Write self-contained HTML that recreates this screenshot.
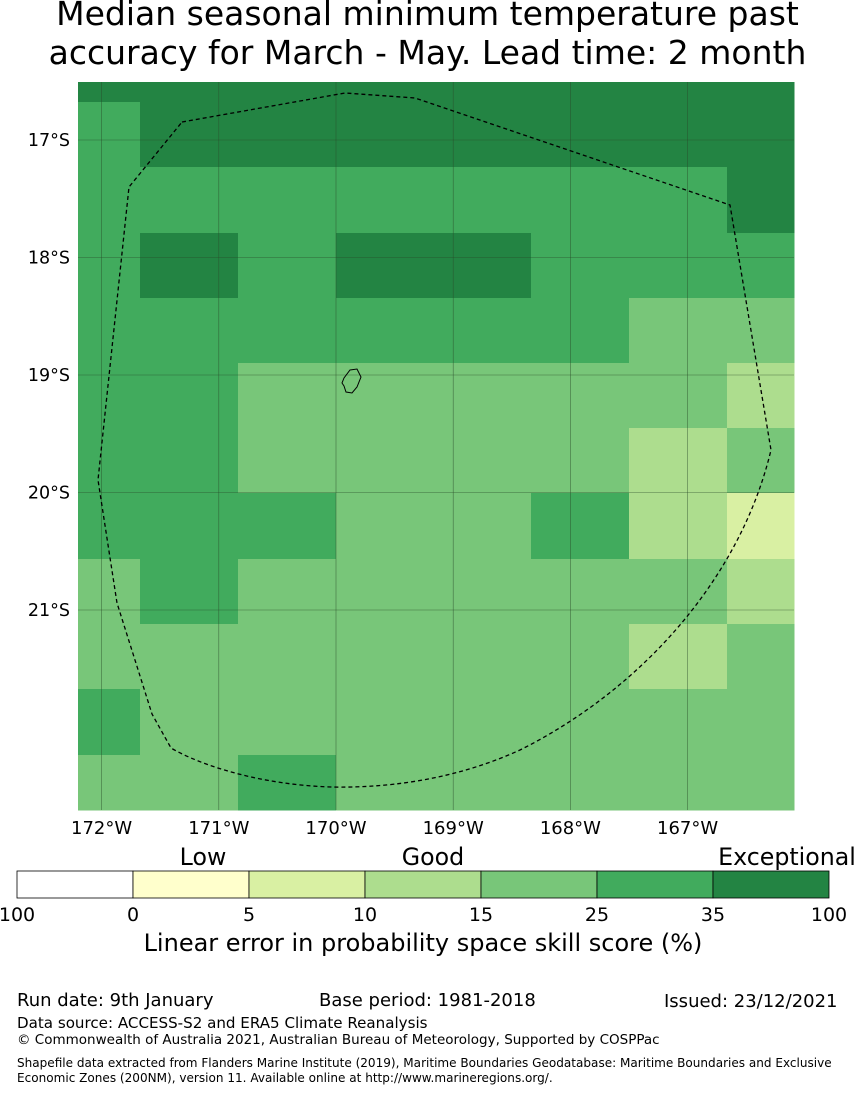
<!DOCTYPE html>
<html><head><meta charset="utf-8"><style>
body{margin:0;width:855px;height:1095px;background:#fff;font-family:"DejaVu Sans","Liberation Sans",sans-serif;overflow:hidden;position:relative}
.t{position:absolute;white-space:nowrap;color:#000}
</style></head><body>
<div class="t" style="left:0;width:855px;top:-6px;text-align:center;font-size:33px;line-height:39px">Median seasonal minimum temperature past<br>accuracy for March - May. Lead time: 2 month</div>
<svg id="map" width="855" height="1095" style="position:absolute;left:0;top:0"></svg>
<div class="t" style="left:0;width:846px;text-align:center;top:929px;font-size:24px">Linear error in probability space skill score (%)</div>
<div class="t" style="left:17px;top:990px;font-size:18px">Run date: 9th January</div>
<div class="t" style="left:319px;top:990px;font-size:18px">Base period: 1981-2018</div>
<div class="t" style="left:664px;top:991px;font-size:18px">Issued: 23/12/2021</div>
<div class="t" style="left:17px;top:1014px;font-size:15.1px">Data source: ACCESS-S2 and ERA5 Climate Reanalysis</div>
<div class="t" style="left:17px;top:1032px;font-size:13.5px">© Commonwealth of Australia 2021, Australian Bureau of Meteorology, Supported by COSPPac</div>
<div class="t" style="left:17px;top:1056px;font-size:12.05px;line-height:15px">Shapefile data extracted from Flanders Marine Institute (2019), Maritime Boundaries Geodatabase: Maritime Boundaries and Exclusive<br>Economic Zones (200NM), version 11. Available online at http://www.marineregions.org/.</div>
<script>
const colors=["#ffffff","#ffffcc","#d9f0a3","#addd8e","#78c679","#41ab5d","#238443"];
const grid=[
[6,6,6,6,6,6,6,6],
[5,6,6,6,6,6,6,6],
[5,5,5,5,5,5,5,6],
[5,6,5,6,6,5,5,5],
[5,5,5,5,5,5,4,4],
[5,5,4,4,4,4,4,3],
[5,5,4,4,4,4,3,4],
[5,5,5,4,4,5,3,2],
[4,5,4,4,4,4,4,3],
[4,4,4,4,4,4,3,4],
[5,4,4,4,4,4,4,4],
[4,4,5,4,4,4,4,4]];
const lonTicks=[-172,-171,-170,-169,-168,-167];
const latTicks=[-17,-18,-19,-20,-21];
const cbTicks=["100","0","5","10","15","25","35","100"];
const cbLabels=["Low","Good","Exceptional"];
const NS="http://www.w3.org/2000/svg";
const svg=document.getElementById('map');
function mk(t,a){const e=document.createElementNS(NS,t);for(const k in a)e.setAttribute(k,a[k]);svg.appendChild(e);return e;}
const xL=78,xR=794,yT=82,yB=810;
const colE=[78,140,238,336,433,531,629,727,794];
const rowE=[82,102,167,233,298,363,428,493,559,624,689,755,810];
function xLon(l){return 336+(l+170)*117.2;}
function yLat(l){return 375+(-19-l)*117.5;}
grid.forEach((row,r)=>row.forEach((v,c)=>{
 const e=mk('rect',{x:colE[c],y:rowE[r],width:colE[c+1]-colE[c]+0.5,height:rowE[r+1]-rowE[r]+0.5,fill:colors[v]});
 
 
}));
lonTicks.forEach(l=>{const x=xLon(l);
 mk('line',{x1:x,y1:yT,x2:x,y2:yB,stroke:'#2a4a2a','stroke-width':0.6,'stroke-opacity':0.7});
 const t=mk('text',{x:x,y:yB+24,'text-anchor':'middle','font-size':18});t.textContent=(-l)+'°W';
 
 
});
latTicks.forEach(l=>{const y=yLat(l);
 mk('line',{x1:xL,y1:y,x2:xR,y2:y,stroke:'#2a4a2a','stroke-width':0.6,'stroke-opacity':0.7});
 const t=mk('text',{x:70,y:y+6,'text-anchor':'end','font-size':17.5});t.textContent=(-l)+'°S';
 
 
});
const eez=mk('path',{d:'M182,122 L345,93 L415,98 L730,205 L771,450 C740,580 640,690 520,750 C450,782 380,788 332,787 C260,785 200,765 171,748 L152,714 L117,603 L98,480 L129,187 Z',fill:'none',stroke:'#000','stroke-width':1.3,'stroke-dasharray':'4,3'});


const isl=mk('path',{d:'M350,370 L357,369 L361,377 L357,387 L352,393 L346,392 L344,386 L342,383 L344,378 Z',fill:'none',stroke:'#000','stroke-width':1});


const cbX=17,cbW=116,cbY=871,cbH=27;
colors.forEach((c,i)=>{const e=mk('rect',{x:cbX+i*cbW,y:cbY,width:cbW,height:cbH,fill:c,stroke:'#000','stroke-width':0.8});
 
 });
cbTicks.forEach((s,i)=>{const t=mk('text',{x:cbX+i*cbW,y:921,'text-anchor':'middle','font-size':19});t.textContent=s;
 
 });
const lp=[203,433,787];
cbLabels.forEach((s,i)=>{const t=mk('text',{x:lp[i],y:865,'text-anchor':'middle','font-size':23.7});t.textContent=s;
 
 });
</script>
</body></html>
